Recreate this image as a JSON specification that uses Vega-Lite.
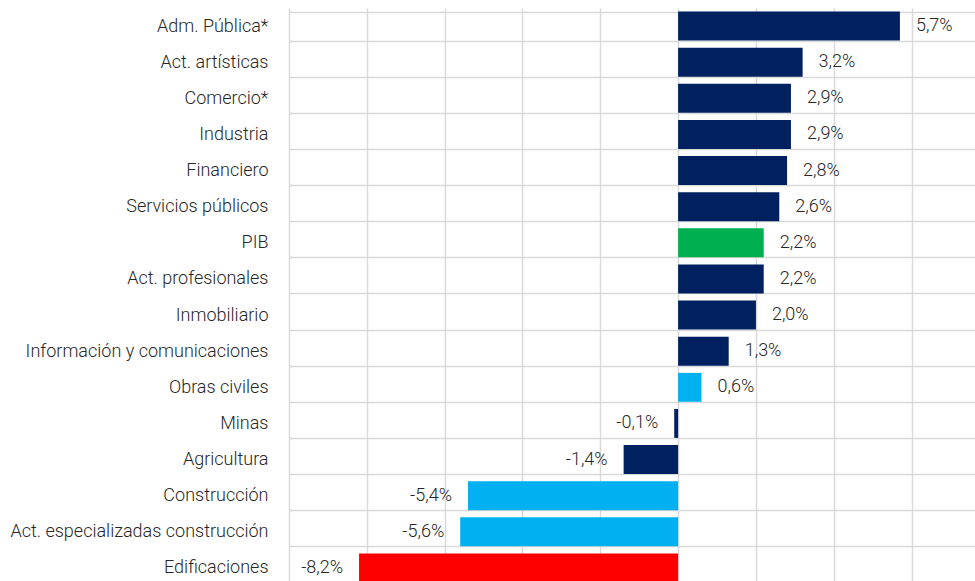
{
  "$schema": "https://vega.github.io/schema/vega-lite/v6.json",
  "autosize": {"type": "none"},
  "padding": {"left": 289, "top": 8, "right": 0, "bottom": 0},
  "width": 686,
  "height": 578,
  "background": "white",
  "data": {"values": [
    {"sector": "Adm. Pública*", "value": 5.7, "label": "5,7%", "group": "sector"},
    {"sector": "Act. artísticas", "value": 3.2, "label": "3,2%", "group": "sector"},
    {"sector": "Comercio*", "value": 2.9, "label": "2,9%", "group": "sector"},
    {"sector": "Industria", "value": 2.9, "label": "2,9%", "group": "sector"},
    {"sector": "Financiero", "value": 2.8, "label": "2,8%", "group": "sector"},
    {"sector": "Servicios públicos", "value": 2.6, "label": "2,6%", "group": "sector"},
    {"sector": "PIB", "value": 2.2, "label": "2,2%", "group": "PIB"},
    {"sector": "Act. profesionales", "value": 2.2, "label": "2,2%", "group": "sector"},
    {"sector": "Inmobiliario", "value": 2.0, "label": "2,0%", "group": "sector"},
    {"sector": "Información y comunicaciones", "value": 1.3, "label": "1,3%", "group": "sector"},
    {"sector": "Obras civiles", "value": 0.6, "label": "0,6%", "group": "construccion"},
    {"sector": "Minas", "value": -0.1, "label": "-0,1%", "group": "sector"},
    {"sector": "Agricultura", "value": -1.4, "label": "-1,4%", "group": "sector"},
    {"sector": "Construcción", "value": -5.4, "label": "-5,4%", "group": "construccion"},
    {"sector": "Act. especializadas construcción", "value": -5.6, "label": "-5,6%", "group": "construccion"},
    {"sector": "Edificaciones", "value": -8.2, "label": "-8,2%", "group": "edificaciones"}
  ]},
  "encoding": {
    "y": {
      "field": "sector", "type": "nominal", "sort": null,
      "scale": {"paddingInner": 0.2, "paddingOuter": 0.1},
      "axis": {
        "title": null, "domain": false, "ticks": false, "tickBand": "extent",
        "grid": true, "gridColor": "#d9d9d9", "gridWidth": 1.5,
        "labelFont": "Roboto", "labelFontSize": 18, "labelFontWeight": 300, "labelColor": "#262626",
        "labelPadding": 21, "labelLimit": 400
      }
    },
    "x": {
      "field": "value", "type": "quantitative",
      "scale": {"domain": [-10, 7.63], "nice": false, "zero": false},
      "axis": {
        "title": null, "labels": false, "ticks": false, "domain": false,
        "values": [-10, -8, -6, -4, -2, 0, 2, 4, 6],
        "grid": true, "gridColor": "#d9d9d9", "gridWidth": 1.5
      }
    }
  },
  "layer": [
    {
      "mark": {"type": "bar"},
      "encoding": {
        "x2": {"datum": 0},
        "color": {
          "field": "group", "type": "nominal", "legend": null,
          "scale": {"domain": ["sector", "PIB", "construccion", "edificaciones"],
                    "range": ["#002060", "#00B050", "#00B0F0", "#FF0000"]}
        }
      }
    },
    {
      "transform": [{"filter": "datum.value >= 0"}],
      "mark": {"type": "text", "align": "left", "dx": 16, "font": "Roboto", "fontSize": 18, "fontWeight": 300, "color": "#262626"},
      "encoding": {"text": {"field": "label"}}
    },
    {
      "transform": [{"filter": "datum.value < 0"}],
      "mark": {"type": "text", "align": "right", "dx": -16, "font": "Roboto", "fontSize": 18, "fontWeight": 300, "color": "#262626"},
      "encoding": {"text": {"field": "label"}}
    },
    {
      "data": {"values": [{}]},
      "mark": {"type": "rule", "color": "#1f2d3d", "strokeWidth": 2},
      "encoding": {"x": {"datum": 0}, "y": {"value": -8}, "y2": {"value": 590}}
    }
  ],
  "config": {"view": {"stroke": null}}
}
